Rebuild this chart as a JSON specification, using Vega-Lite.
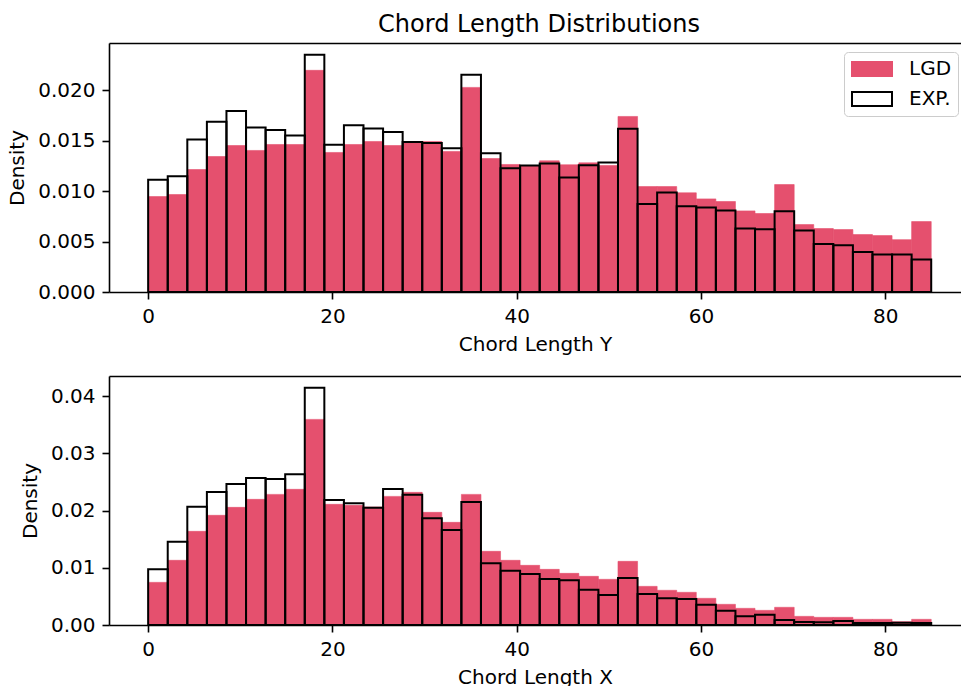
{
  "$schema": "https://vega.github.io/schema/vega-lite/v6.json",
  "padding": {"left": 7, "top": 13, "right": 0, "bottom": 0},
  "spacing": 22,
  "background": "white",
  "config": {
    "view": {"stroke": null},
    "font": "DejaVu Sans",
    "axis": {
      "grid": false,
      "domainColor": "black", "domainWidth": 1.6,
      "tickColor": "black", "tickWidth": 1.6, "tickSize": 7,
      "labelFont": "DejaVu Sans", "labelFontSize": 20, "labelColor": "black", "labelPadding": 7,
      "titleFont": "DejaVu Sans", "titleFontSize": 20, "titleFontWeight": "normal", "titleColor": "black", "titlePadding": 8
    },
    "axisY": {"titlePadding": 10},
    "legend": {
      "title": null,
      "symbolType": "M-0.9,-0.7H3.1V0.7H-0.9Z",
      "symbolSize": 400,
      "symbolStrokeWidth": 2,
      "labelFont": "DejaVu Sans", "labelFontSize": 20, "labelColor": "black",
      "labelOffset": 37,
      "padding": 6,
      "rowPadding": 8,
      "strokeColor": "#cccccc",
      "fillColor": "rgba(255,255,255,0.8)",
      "cornerRadius": 4
    }
  },
  "resolve": {"scale": {"x": "independent", "y": "independent", "fill": "independent", "stroke": "independent"}, "legend": {"fill": "independent", "stroke": "independent"}},
  "datasets": {
    "Y": [
      {"s":"LGD","a":0,"b":2.125,"d":0.00946},{"s":"LGD","a":2.125,"b":4.25,"d":0.00966},{"s":"LGD","a":4.25,"b":6.375,"d":0.01214},{"s":"LGD","a":6.375,"b":8.5,"d":0.01343},{"s":"LGD","a":8.5,"b":10.625,"d":0.01452},
      {"s":"LGD","a":10.625,"b":12.75,"d":0.01403},{"s":"LGD","a":12.75,"b":14.875,"d":0.01462},{"s":"LGD","a":14.875,"b":17,"d":0.01462},{"s":"LGD","a":17,"b":19.125,"d":0.02197},{"s":"LGD","a":19.125,"b":21.25,"d":0.01383},
      {"s":"LGD","a":21.25,"b":23.375,"d":0.01462},{"s":"LGD","a":23.375,"b":25.5,"d":0.01492},{"s":"LGD","a":25.5,"b":27.625,"d":0.01452},{"s":"LGD","a":27.625,"b":29.75,"d":0.0148},{"s":"LGD","a":29.75,"b":31.875,"d":0.01492},
      {"s":"LGD","a":31.875,"b":34,"d":0.01393},{"s":"LGD","a":34,"b":36.125,"d":0.02028},{"s":"LGD","a":36.125,"b":38.25,"d":0.01323},{"s":"LGD","a":38.25,"b":40.375,"d":0.01264},{"s":"LGD","a":40.375,"b":42.5,"d":0.0125},
      {"s":"LGD","a":42.5,"b":44.625,"d":0.013},{"s":"LGD","a":44.625,"b":46.75,"d":0.01261},{"s":"LGD","a":46.75,"b":48.875,"d":0.0128},{"s":"LGD","a":48.875,"b":51,"d":0.01254},{"s":"LGD","a":51,"b":53.125,"d":0.0174},
      {"s":"LGD","a":53.125,"b":55.25,"d":0.01045},{"s":"LGD","a":55.25,"b":57.375,"d":0.01045},{"s":"LGD","a":57.375,"b":59.5,"d":0.00983},{"s":"LGD","a":59.5,"b":61.625,"d":0.00923},{"s":"LGD","a":61.625,"b":63.75,"d":0.00897},
      {"s":"LGD","a":63.75,"b":65.875,"d":0.00804},{"s":"LGD","a":65.875,"b":68,"d":0.00778},{"s":"LGD","a":68,"b":70.125,"d":0.01065},{"s":"LGD","a":70.125,"b":72.25,"d":0.00668},{"s":"LGD","a":72.25,"b":74.375,"d":0.00629},
      {"s":"LGD","a":74.375,"b":76.5,"d":0.00619},{"s":"LGD","a":76.5,"b":78.625,"d":0.00569},{"s":"LGD","a":78.625,"b":80.75,"d":0.00559},{"s":"LGD","a":80.75,"b":82.875,"d":0.00519},{"s":"LGD","a":82.875,"b":85,"d":0.00698},
      {"s":"EXP.","a":0,"b":2.125,"d":0.01112},{"s":"EXP.","a":2.125,"b":4.25,"d":0.01148},{"s":"EXP.","a":4.25,"b":6.375,"d":0.01512},{"s":"EXP.","a":6.375,"b":8.5,"d":0.01687},{"s":"EXP.","a":8.5,"b":10.625,"d":0.01793},
      {"s":"EXP.","a":10.625,"b":12.75,"d":0.01631},{"s":"EXP.","a":12.75,"b":14.875,"d":0.01605},{"s":"EXP.","a":14.875,"b":17,"d":0.01552},{"s":"EXP.","a":17,"b":19.125,"d":0.02352},{"s":"EXP.","a":19.125,"b":21.25,"d":0.01459},
      {"s":"EXP.","a":21.25,"b":23.375,"d":0.01654},{"s":"EXP.","a":23.375,"b":25.5,"d":0.01621},{"s":"EXP.","a":25.5,"b":27.625,"d":0.01585},{"s":"EXP.","a":27.625,"b":29.75,"d":0.01486},{"s":"EXP.","a":29.75,"b":31.875,"d":0.01476},
      {"s":"EXP.","a":31.875,"b":34,"d":0.01426},{"s":"EXP.","a":34,"b":36.125,"d":0.02154},{"s":"EXP.","a":36.125,"b":38.25,"d":0.01376},{"s":"EXP.","a":38.25,"b":40.375,"d":0.01227},{"s":"EXP.","a":40.375,"b":42.5,"d":0.01254},
      {"s":"EXP.","a":42.5,"b":44.625,"d":0.01274},{"s":"EXP.","a":44.625,"b":46.75,"d":0.01135},{"s":"EXP.","a":46.75,"b":48.875,"d":0.01257},{"s":"EXP.","a":48.875,"b":51,"d":0.01284},{"s":"EXP.","a":51,"b":53.125,"d":0.01618},
      {"s":"EXP.","a":53.125,"b":55.25,"d":0.00873},{"s":"EXP.","a":55.25,"b":57.375,"d":0.00986},{"s":"EXP.","a":57.375,"b":59.5,"d":0.0085},{"s":"EXP.","a":59.5,"b":61.625,"d":0.00837},{"s":"EXP.","a":61.625,"b":63.75,"d":0.00807},
      {"s":"EXP.","a":63.75,"b":65.875,"d":0.00629},{"s":"EXP.","a":65.875,"b":68,"d":0.00622},{"s":"EXP.","a":68,"b":70.125,"d":0.00801},{"s":"EXP.","a":70.125,"b":72.25,"d":0.00609},{"s":"EXP.","a":72.25,"b":74.375,"d":0.00476},
      {"s":"EXP.","a":74.375,"b":76.5,"d":0.00463},{"s":"EXP.","a":76.5,"b":78.625,"d":0.00397},{"s":"EXP.","a":78.625,"b":80.75,"d":0.00371},{"s":"EXP.","a":80.75,"b":82.875,"d":0.00371},{"s":"EXP.","a":82.875,"b":85,"d":0.00321}
    ],
    "X": [
      {"s":"LGD","a":0,"b":2.125,"d":0.00745},{"s":"LGD","a":2.125,"b":4.25,"d":0.0113},{"s":"LGD","a":4.25,"b":6.375,"d":0.01636},{"s":"LGD","a":6.375,"b":8.5,"d":0.01916},{"s":"LGD","a":8.5,"b":10.625,"d":0.02055},
      {"s":"LGD","a":10.625,"b":12.75,"d":0.02195},{"s":"LGD","a":12.75,"b":14.875,"d":0.02282},{"s":"LGD","a":14.875,"b":17,"d":0.0237},{"s":"LGD","a":17,"b":19.125,"d":0.03592},{"s":"LGD","a":19.125,"b":21.25,"d":0.02108},
      {"s":"LGD","a":21.25,"b":23.375,"d":0.0209},{"s":"LGD","a":23.375,"b":25.5,"d":0.02061},{"s":"LGD","a":25.5,"b":27.625,"d":0.02247},{"s":"LGD","a":27.625,"b":29.75,"d":0.02317},{"s":"LGD","a":29.75,"b":31.875,"d":0.01968},
      {"s":"LGD","a":31.875,"b":34,"d":0.01793},{"s":"LGD","a":34,"b":36.125,"d":0.02282},{"s":"LGD","a":36.125,"b":38.25,"d":0.01287},{"s":"LGD","a":38.25,"b":40.375,"d":0.0113},{"s":"LGD","a":40.375,"b":42.5,"d":0.01042},
      {"s":"LGD","a":42.5,"b":44.625,"d":0.00972},{"s":"LGD","a":44.625,"b":46.75,"d":0.00902},{"s":"LGD","a":46.75,"b":48.875,"d":0.0085},{"s":"LGD","a":48.875,"b":51,"d":0.00798},{"s":"LGD","a":51,"b":53.125,"d":0.01112},
      {"s":"LGD","a":53.125,"b":55.25,"d":0.00675},{"s":"LGD","a":55.25,"b":57.375,"d":0.00606},{"s":"LGD","a":57.375,"b":59.5,"d":0.00571},{"s":"LGD","a":59.5,"b":61.625,"d":0.00466},{"s":"LGD","a":61.625,"b":63.75,"d":0.00361},
      {"s":"LGD","a":63.75,"b":65.875,"d":0.00291},{"s":"LGD","a":65.875,"b":68,"d":0.00256},{"s":"LGD","a":68,"b":70.125,"d":0.00309},{"s":"LGD","a":70.125,"b":72.25,"d":0.00151},{"s":"LGD","a":72.25,"b":74.375,"d":0.00134},
      {"s":"LGD","a":74.375,"b":76.5,"d":0.00134},{"s":"LGD","a":76.5,"b":78.625,"d":0.00099},{"s":"LGD","a":78.625,"b":80.75,"d":0.00099},{"s":"LGD","a":80.75,"b":82.875,"d":0.00058},{"s":"LGD","a":82.875,"b":85,"d":0.00099},
      {"s":"EXP.","a":0,"b":2.125,"d":0.00972},{"s":"EXP.","a":2.125,"b":4.25,"d":0.01456},{"s":"EXP.","a":4.25,"b":6.375,"d":0.02067},{"s":"EXP.","a":6.375,"b":8.5,"d":0.02323},{"s":"EXP.","a":8.5,"b":10.625,"d":0.02463},
      {"s":"EXP.","a":10.625,"b":12.75,"d":0.02568},{"s":"EXP.","a":12.75,"b":14.875,"d":0.0255},{"s":"EXP.","a":14.875,"b":17,"d":0.02632},{"s":"EXP.","a":17,"b":19.125,"d":0.04146},{"s":"EXP.","a":19.125,"b":21.25,"d":0.02183},
      {"s":"EXP.","a":21.25,"b":23.375,"d":0.02125},{"s":"EXP.","a":23.375,"b":25.5,"d":0.0205},{"s":"EXP.","a":25.5,"b":27.625,"d":0.02376},{"s":"EXP.","a":27.625,"b":29.75,"d":0.02277},{"s":"EXP.","a":29.75,"b":31.875,"d":0.01863},
      {"s":"EXP.","a":31.875,"b":34,"d":0.01659},{"s":"EXP.","a":34,"b":36.125,"d":0.02148},{"s":"EXP.","a":36.125,"b":38.25,"d":0.01077},{"s":"EXP.","a":38.25,"b":40.375,"d":0.00949},{"s":"EXP.","a":40.375,"b":42.5,"d":0.00891},
      {"s":"EXP.","a":42.5,"b":44.625,"d":0.00803},{"s":"EXP.","a":44.625,"b":46.75,"d":0.0078},{"s":"EXP.","a":46.75,"b":48.875,"d":0.00617},{"s":"EXP.","a":48.875,"b":51,"d":0.00524},{"s":"EXP.","a":51,"b":53.125,"d":0.00821},
      {"s":"EXP.","a":53.125,"b":55.25,"d":0.00541},{"s":"EXP.","a":55.25,"b":57.375,"d":0.00466},{"s":"EXP.","a":57.375,"b":59.5,"d":0.00454},{"s":"EXP.","a":59.5,"b":61.625,"d":0.00355},{"s":"EXP.","a":61.625,"b":63.75,"d":0.0025},
      {"s":"EXP.","a":63.75,"b":65.875,"d":0.00151},{"s":"EXP.","a":65.875,"b":68,"d":0.0018},{"s":"EXP.","a":68,"b":70.125,"d":0.00087},{"s":"EXP.","a":70.125,"b":72.25,"d":0.00052},{"s":"EXP.","a":72.25,"b":74.375,"d":0.00047},
      {"s":"EXP.","a":74.375,"b":76.5,"d":0.0007},{"s":"EXP.","a":76.5,"b":78.625,"d":0.00035},{"s":"EXP.","a":78.625,"b":80.75,"d":0.00035},{"s":"EXP.","a":80.75,"b":82.875,"d":0.00041},{"s":"EXP.","a":82.875,"b":85,"d":0.00035}
    ]
  },
  "vconcat": [
    {
      "width": 852, "height": 249,
      "title": {"text": "Chord Length Distributions", "font": "DejaVu Sans", "fontSize": 24, "fontWeight": "normal", "color": "black", "anchor": "middle", "baseline": "alphabetic", "offset": -13, "dx": 4},
      "data": {"name": "Y"},
      "resolve": {"axis": {"x": "independent"}},
      "layer": [
        {
          "transform": [{"filter": "datum.s === 'LGD'"}],
          "mark": {"type": "bar", "strokeWidth": 0.6},
          "encoding": {
            "x": {"field": "a", "type": "quantitative", "scale": {"domain": [-4.25, 88.233], "nice": false, "zero": false}, "axis": {"values": [0, 20, 40, 60, 80], "format": "d", "title": "Chord Length Y", "orient": "bottom"}},
            "x2": {"field": "b"},
            "y": {"field": "d", "type": "quantitative", "scale": {"domain": [0, 0.02468], "nice": false}, "axis": {"values": [0, 0.005, 0.01, 0.015, 0.02], "format": ".3f", "title": "Density"}},
            "y2": {"datum": 0},
            "fill": {"field": "s", "type": "nominal", "scale": {"domain": ["LGD", "EXP."], "range": ["#E5506E", "transparent"]}, "legend": {"orient": "none", "legendX": 735, "legendY": 9}},
            "stroke": {"field": "s", "type": "nominal", "scale": {"domain": ["LGD", "EXP."], "range": ["#E5506E", "black"]}, "legend": {"orient": "none", "legendX": 735, "legendY": 9}}
          }
        },
        {
          "transform": [{"filter": "datum.s === 'EXP.'"}],
          "mark": {"type": "bar", "strokeWidth": 2},
          "encoding": {
            "x": {"field": "a", "type": "quantitative", "scale": {"domain": [-4.25, 88.233], "nice": false, "zero": false}, "axis": {"orient": "top", "labels": false, "ticks": false, "title": null, "domain": true}},
            "x2": {"field": "b"},
            "y": {"field": "d", "type": "quantitative", "scale": {"domain": [0, 0.02468], "nice": false}, "axis": {"values": [0, 0.005, 0.01, 0.015, 0.02], "format": ".3f", "title": "Density"}},
            "y2": {"datum": 0},
            "fill": {"field": "s", "type": "nominal", "scale": {"domain": ["LGD", "EXP."], "range": ["#E5506E", "transparent"]}, "legend": {"orient": "none", "legendX": 735, "legendY": 9}},
            "stroke": {"field": "s", "type": "nominal", "scale": {"domain": ["LGD", "EXP."], "range": ["#E5506E", "black"]}, "legend": {"orient": "none", "legendX": 735, "legendY": 9}}
          }
        }
      ]
    },
    {
      "width": 852, "height": 249,
      "data": {"name": "X"},
      "resolve": {"axis": {"x": "independent"}},
      "layer": [
        {
          "transform": [{"filter": "datum.s === 'LGD'"}],
          "mark": {"type": "bar", "strokeWidth": 0.6},
          "encoding": {
            "x": {"field": "a", "type": "quantitative", "scale": {"domain": [-4.25, 88.233], "nice": false, "zero": false}, "axis": {"values": [0, 20, 40, 60, 80], "format": "d", "title": "Chord Length X", "orient": "bottom"}},
            "x2": {"field": "b"},
            "y": {"field": "d", "type": "quantitative", "scale": {"domain": [0, 0.0435], "nice": false}, "axis": {"values": [0, 0.01, 0.02, 0.03, 0.04], "format": ".2f", "title": "Density"}},
            "y2": {"datum": 0},
            "fill": {"field": "s", "type": "nominal", "scale": {"domain": ["LGD", "EXP."], "range": ["#E5506E", "transparent"]}, "legend": null},
            "stroke": {"field": "s", "type": "nominal", "scale": {"domain": ["LGD", "EXP."], "range": ["#E5506E", "black"]}, "legend": null}
          }
        },
        {
          "transform": [{"filter": "datum.s === 'EXP.'"}],
          "mark": {"type": "bar", "strokeWidth": 2},
          "encoding": {
            "x": {"field": "a", "type": "quantitative", "scale": {"domain": [-4.25, 88.233], "nice": false, "zero": false}, "axis": {"orient": "top", "labels": false, "ticks": false, "title": null, "domain": true}},
            "x2": {"field": "b"},
            "y": {"field": "d", "type": "quantitative", "scale": {"domain": [0, 0.0435], "nice": false}, "axis": {"values": [0, 0.01, 0.02, 0.03, 0.04], "format": ".2f", "title": "Density"}},
            "y2": {"datum": 0},
            "fill": {"field": "s", "type": "nominal", "scale": {"domain": ["LGD", "EXP."], "range": ["#E5506E", "transparent"]}, "legend": null},
            "stroke": {"field": "s", "type": "nominal", "scale": {"domain": ["LGD", "EXP."], "range": ["#E5506E", "black"]}, "legend": null}
          }
        }
      ]
    }
  ]
}
